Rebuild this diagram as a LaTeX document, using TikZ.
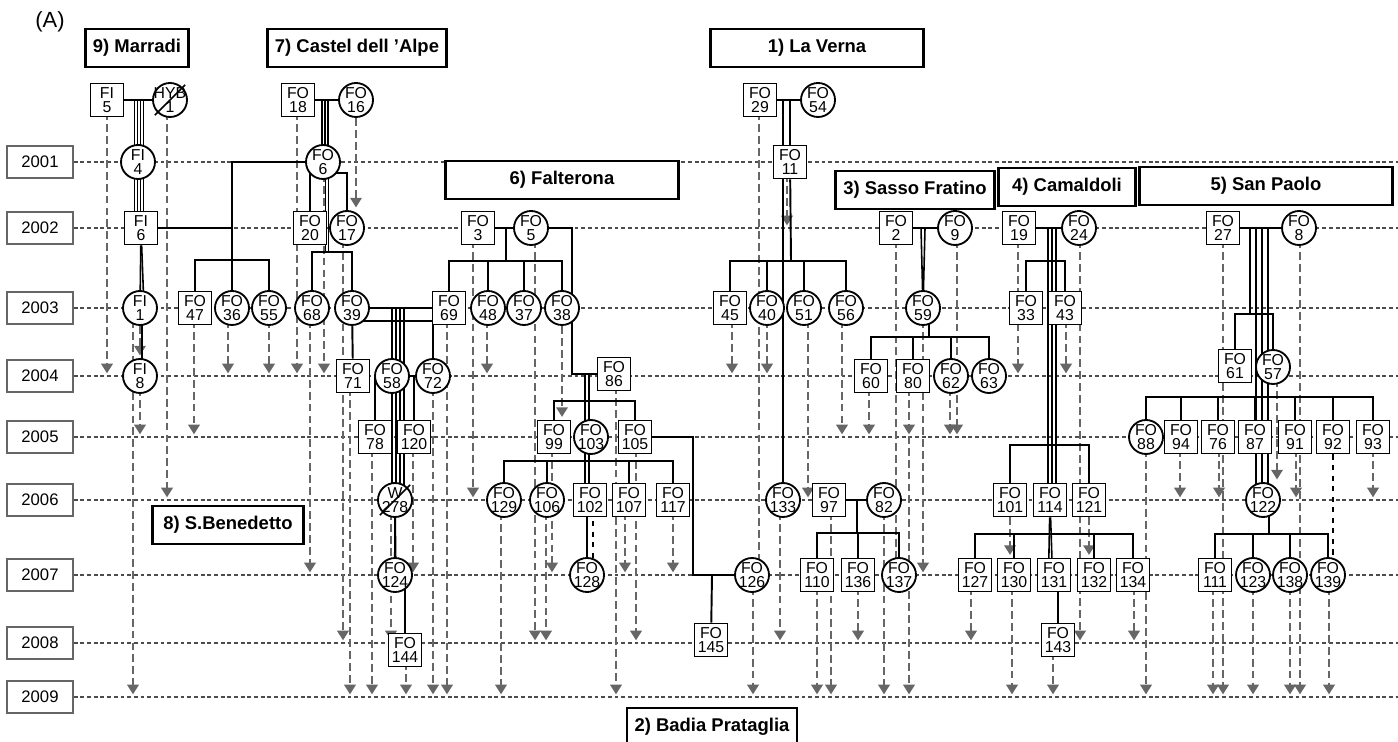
\documentclass[tikz,border=0pt]{standalone}
\usepackage{fontspec}
\setmainfont{Liberation Sans}
\usetikzlibrary{arrows.meta,backgrounds}
\tikzset{ybox/.style={
    rectangle,
    draw=black!60,
    line width=0.9pt,
    minimum width=1.32cm,
    minimum height=0.64cm,
    font=\fontsize{9.5}{11}\selectfont
  },
  tbox/.style={rectangle,draw,fill=white,line width=1.4pt,minimum height=0.76cm,
    font=\fontsize{10.5}{12}\selectfont\bfseries},
  ind/.style={draw,line width=1.05pt,fill=white,align=center,
    font=\fontsize{9}{7.6}\selectfont},
  mbox/.style={ind,rectangle,inner sep=0pt,minimum size=0.66cm},
  fcirc/.style={ind,circle,inner sep=-3pt,minimum size=0.68cm},
  yline/.style={black!70,line width=0.6pt,dash pattern=on 2.2pt off 1.6pt},
  seen/.style={black!60,line width=1.25pt,dash pattern=on 4.5pt off 2.3pt,
    -{Triangle[width=6.5pt,length=5.5pt]},shorten >=1.5pt},
  mate/.style={line width=1.6pt},
  sib/.style={line width=1.1pt},
  bund/.style={line width=0.9pt},
}
\begin{document}
\begin{tikzpicture}[x=0.02cm,y=-0.02cm]
  \useasboundingbox (0,0) rectangle (1398,742);
  \node[font=\fontsize{12.5}{14}\selectfont] (lbl) at (50,22) {(A)};
  \coordinate (rim) at (1398,0);

  % years
  \foreach \yr/\yy in {2001/162,2002/228,2003/308,2004/376,2005/437,
      2006/500,2007/575,2008/643,2009/697}
    \node[ybox] (y\yr) at (40,\yy) {\yr};

  % sites
  \node[tbox,minimum width=2.06cm] (marradi) at (137,48) {9) Marradi};
  \node[tbox,minimum width=3.58cm] (castel) at (357,48) {7) Castel dell 'Alpe};
  \node[tbox,minimum width=4.26cm] (verna) at (817,48) {1) La Verna};
  \node[tbox,minimum width=4.66cm] (falt) at (562,180) {6) Falterona};
  \node[tbox,minimum width=3.18cm] (sasso) at (915,190) {3) Sasso Fratino};
  \node[tbox,minimum width=2.74cm] (camal) at (1067,187) {4) Camaldoli};
  \node[tbox,minimum width=5.06cm] (paolo) at (1266,186) {5) San Paolo};
  \node[tbox,minimum width=3.02cm] (bened) at (228,525) {8) S.Benedetto};
  \node[tbox,minimum width=3.4cm] (badia) at (712,727) {2) Badia Prataglia};

  % Marradi
  \node[mbox] (fi5) at (107,100) {FI\\5};
  \node[fcirc] (hyb1) at (170,100) {HYB\\1};
  \node[fcirc] (fi4) at (138,162) {FI\\4};
  \node[mbox] (fi6) at (141,228) {FI\\6};
  \node[fcirc] (fi1) at (140,308) {FI\\1};
  \node[fcirc] (fi8) at (140,376) {FI\\8};
  \node[mbox] (fo47) at (195,308) {FO\\47};
  \node[fcirc] (fo36) at (232,308) {FO\\36};
  \node[fcirc] (fo55) at (269,308) {FO\\55};

  % Castel dell'Alpe
  \node[mbox] (fo18) at (298,100) {FO\\18};
  \node[fcirc] (fo16) at (356,100) {FO\\16};
  \node[fcirc] (fo6) at (323,162) {FO\\6};
  \node[mbox] (fo20) at (310,228) {FO\\20};
  \node[fcirc] (fo17) at (347,228) {FO\\17};
  \node[fcirc] (fo68) at (312,308) {FO\\68};
  \node[fcirc] (fo39) at (352,308) {FO\\39};
  \node[mbox] (fo71) at (353,376) {FO\\71};
  \node[fcirc] (fo58) at (392,376) {FO\\58};
  \node[fcirc] (fo72) at (433,376) {FO\\72};
  \node[mbox] (fo78) at (375,437) {FO\\78};
  \node[mbox] (fo120) at (414,437) {FO\\120};
  \node[fcirc] (w278) at (395,500) {W\\278};
  \node[fcirc] (fo124) at (395,575) {FO\\124};
  \node[mbox] (fo144) at (405,650) {FO\\144};

  % Falterona
  \node[mbox] (fo3) at (478,228) {FO\\3};
  \node[fcirc] (fo5) at (531,228) {FO\\5};
  \node[mbox] (fo69) at (449,308) {FO\\69};
  \node[fcirc] (fo48) at (488,308) {FO\\48};
  \node[fcirc] (fo37) at (524,308) {FO\\37};
  \node[fcirc] (fo38) at (562,308) {FO\\38};
  \node[mbox] (fo86) at (614,374) {FO\\86};
  \node[mbox] (fo99) at (554,437) {FO\\99};
  \node[fcirc] (fo103) at (591,437) {FO\\103};
  \node[mbox] (fo105) at (635,437) {FO\\105};
  \node[fcirc] (fo129) at (504,500) {FO\\129};
  \node[fcirc] (fo106) at (547,500) {FO\\106};
  \node[mbox] (fo102) at (590,500) {FO\\102};
  \node[mbox] (fo107) at (629,500) {FO\\107};
  \node[mbox] (fo117) at (673,500) {FO\\117};
  \node[fcirc] (fo128) at (587,575) {FO\\128};
  \node[fcirc] (fo126) at (752,575) {FO\\126};
  \node[mbox] (fo145) at (711,640) {FO\\145};

  % La Verna
  \node[mbox] (fo29) at (760,100) {FO\\29};
  \node[fcirc] (fo54) at (818,100) {FO\\54};
  \node[mbox] (fo11) at (790,162) {FO\\11};
  \node[mbox] (fo45) at (730,308) {FO\\45};
  \node[fcirc] (fo40) at (767,308) {FO\\40};
  \node[fcirc] (fo51) at (804,308) {FO\\51};
  \node[fcirc] (fo56) at (846,308) {FO\\56};
  \node[fcirc] (fo133) at (783,500) {FO\\133};

  % Sasso Fratino
  \node[mbox] (fo2) at (896,228) {FO\\2};
  \node[fcirc] (fo9) at (955,228) {FO\\9};
  \node[fcirc] (fo59) at (923,308) {FO\\59};
  \node[mbox] (fo60) at (871,376) {FO\\60};
  \node[mbox] (fo80) at (913,376) {FO\\80};
  \node[fcirc] (fo62) at (951,376) {FO\\62};
  \node[fcirc] (fo63) at (989,376) {FO\\63};
  \node[mbox] (fo97) at (829,500) {FO\\97};
  \node[fcirc] (fo82) at (884,500) {FO\\82};
  \node[mbox] (fo110) at (817,575) {FO\\110};
  \node[mbox] (fo136) at (858,575) {FO\\136};
  \node[fcirc] (fo137) at (899,575) {FO\\137};

  % Camaldoli
  \node[mbox] (fo19) at (1019,228) {FO\\19};
  \node[fcirc] (fo24) at (1079,228) {FO\\24};
  \node[mbox] (fo33) at (1026,308) {FO\\33};
  \node[mbox] (fo43) at (1065,308) {FO\\43};
  \node[mbox] (fo101) at (1010,500) {FO\\101};
  \node[mbox] (fo114) at (1050,500) {FO\\114};
  \node[mbox] (fo121) at (1089,500) {FO\\121};
  \node[mbox] (fo127) at (975,575) {FO\\127};
  \node[mbox] (fo130) at (1014,575) {FO\\130};
  \node[mbox] (fo131) at (1054,575) {FO\\131};
  \node[mbox] (fo132) at (1094,575) {FO\\132};
  \node[mbox] (fo134) at (1133,575) {FO\\134};
  \node[mbox] (fo143) at (1058,640) {FO\\143};

  % San Paolo
  \node[mbox] (fo27) at (1223,228) {FO\\27};
  \node[fcirc] (fo8) at (1299,228) {FO\\8};
  \node[mbox] (fo61) at (1235,366) {FO\\61};
  \node[fcirc] (fo57) at (1273,367) {FO\\57};
  \node[fcirc] (fo88) at (1146,437) {FO\\88};
  \node[mbox] (fo94) at (1181,437) {FO\\94};
  \node[mbox] (fo76) at (1218,437) {FO\\76};
  \node[mbox] (fo87) at (1255,437) {FO\\87};
  \node[mbox] (fo91) at (1295,437) {FO\\91};
  \node[mbox] (fo92) at (1333,437) {FO\\92};
  \node[mbox] (fo93) at (1373,437) {FO\\93};
  \node[fcirc] (fo122) at (1263,500) {FO\\122};
  \node[mbox] (fo111) at (1215,575) {FO\\111};
  \node[fcirc] (fo123) at (1253,575) {FO\\123};
  \node[fcirc] (fo138) at (1290,575) {FO\\138};
  \node[fcirc] (fo139) at (1328,575) {FO\\139};

  % crossed out
  \draw[line width=0.9pt,shorten <=-2pt,shorten >=-2pt] (hyb1.south west) -- (hyb1.north east);
  \draw[line width=0.9pt,shorten <=-2pt,shorten >=-2pt] (w278.south west) -- (w278.north east);

  \begin{pgfonlayer}{background}
    \foreach \yr in {2001,...,2009}
      \draw[yline] (y\yr) -- (y\yr -| rim);

    % last year seen
    \foreach \n/\x/\yr in {fi5/107/2004,hyb1/167/2006,fi1/133/2009,fi8/140/2005,
        fo47/194/2005,fo36/228/2004,fo55/269/2004,fo18/297/2004,fo6/324/2004,
        fo68/310/2007,fo17/343/2008,fo71/350/2009,fo78/372/2009,fo120/413/2007,
        fo144/406/2009,fo72/433/2009,fo69/447/2009,w278/391/2008,
        fo3/473/2006,fo48/487/2004,fo5/535/2008,fo99/552/2007,fo106/546/2008,
        fo86/616/2009,fo105/636/2008,fo107/625/2007,fo117/673/2007,
        fo129/501/2009,fo126/753/2009,
        fo29/759/2007,fo11/787/2002,fo45/732/2004,fo40/767/2004,fo51/808/2006,
        fo56/842/2005,fo133/780/2008,
        fo2/896/2007,fo59/923/2007,fo60/869/2005,fo80/909/2005,fo80/909/2009,
        fo62/950/2005,fo9/957/2005,fo110/817/2009,fo97/831/2009,
        fo136/858/2008,fo82/884/2009,
        fo19/1018/2004,fo43/1066/2004,fo24/1080/2008,fo130/1012/2009,
        fo127/971/2008,fo134/1134/2008,fo143/1053/2009,
        fo27/1223/2009,fo8/1300/2009,fo88/1146/2009,fo94/1180/2006,
        fo76/1219/2006,fo91/1296/2006,fo93/1373/2006,fo111/1213/2009,
        fo123/1253/2009,fo138/1290/2009,fo139/1329/2009}
      \draw[seen] (\x,0 |- \n) -- (\x,0 |- y\yr);
    \draw[seen] (fi1) -- (fi8);
    \draw[seen] (fo16) -- (fo16 |- fo17.north);
    \draw[seen] (fo38) -- (fo38 |- fo99.north);
    \draw[seen] (fo121) -- (fo121 |- fo132.north);
    \draw[seen] (fo101) -- (fo101 |- fo130.north);
    \draw[seen] (1277,0 |- fo57) -- (1277,0 |- fo122.north);
    \draw[dashed,line width=0.8pt] (593,0 |- fo102) -- (593,0 |- fo128);
    \draw[dashed,line width=1.5pt] (fo92) -- (fo92 |- fo139.north);

    % Marradi
    \draw[mate] (fi5) -- (hyb1);
    \coordinate (m9) at (139,100);
    \foreach \d in {-0.09,-0.03,0.03,0.09}
      \draw[bund] ([xshift=\d cm]m9) -- ([xshift=\d cm]m9 |- fi6);
    \foreach \d in {-0.02,0.06}
      \draw[bund] ([xshift=\d cm]fi6) -- ([xshift=\d cm]fi6 |- fi1);
    \draw[sib] ([xshift=0.04cm]fi1.center) -- ([xshift=0.04cm]fi8.center);
    \coordinate (k6) at (232,228);
    \coordinate (j6) at (232,260);
    \draw[mate] (fi6) -- (k6) |- (fo6);
    \draw[sib] (k6) -- (j6);
    \draw[sib] (j6) -| (fo47);
    \draw[sib] (j6) -| (fo55);
    \draw[sib] (j6) -- (fo36);

    % Castel dell'Alpe
    \draw[mate] (fo18) -- (fo16);
    \coordinate (m7) at (325,100);
    \foreach \d in {-0.06,0,0.06}
      \draw[bund] ([xshift=\d cm]m7) -- ([xshift=\d cm]m7 |- fo6);
    \coordinate (j7) at (327,252);
    \foreach \d in {-0.03,0.03}
      \draw[bund] ([xshift=\d cm]j7 |- fo6) -- ([xshift=\d cm]j7);
    \draw[sib] (j7) -| (fo68);
    \draw[sib] (j7) -| (fo39);
    \draw[sib] (fo20.north |- fo6) -- (fo20);
    \draw[sib] ([yshift=-0.22cm]fo6.center) -| (fo17);
    \draw[mate] (fo39) -- (fo69);
    \draw[sib] (fo39) -- (fo71);
    \draw[sib] ([yshift=-0.26cm]fo39.center) -| (fo72);
    \coordinate (m39) at (398,308);
    \foreach \d in {-0.12,-0.04,0.04,0.12}
      \draw[bund] ([xshift=\d cm]m39) -- ([xshift=\d cm]m39 |- w278);
    \draw[sib] (fo58) -| (fo78);
    \draw[sib] (fo58) -| (fo120);
    \foreach \d in {-0.02,0.06}
      \draw[bund] ([xshift=\d cm]w278) -- ([xshift=\d cm]fo124);
    \draw[sib] (fo144.north |- fo124) -- (fo144);

    % Falterona
    \draw[mate] (fo3) -- (fo5);
    \coordinate (m6) at (506,228);
    \coordinate (j6b) at (506,261);
    \draw[sib] (m6) -- (j6b);
    \foreach \c in {fo69,fo48,fo37,fo38}
      \draw[sib] (j6b) -| (\c);
    \coordinate (k5) at (572,228);
    \draw[mate] (fo5) -- (k5) |- (fo86);
    \coordinate (m86) at (587,374);
    \coordinate (j86) at (587,401);
    \coordinate (j103) at (587,461);
    \foreach \d in {-0.04,0.04}
      \draw[bund] ([xshift=\d cm]m86) -- ([xshift=\d cm]m86 |- fo102);
    \draw[sib] (j86) -| (fo99);
    \draw[sib] (j86) -| (fo105);
    \foreach \c in {fo129,fo106,fo107,fo117}
      \draw[sib] (j103) -| (\c);
    \coordinate (k105) at (693,437);
    \draw[mate] (fo105) -- (k105) |- (fo126);
    \coordinate (m126) at (712,575);
    \draw[sib] (m126) -- (fo145);
    \draw[sib] (fo128) -- (fo128 |- fo102);

    % La Verna
    \draw[mate] (fo29) -- (fo54);
    \draw[sib] (fo133 |- fo29) -- (fo133);
    \draw[sib] (fo11 |- fo29) -- (fo11);
    \coordinate (j11) at (791,261);
    \draw[sib] (fo11) -- (j11);
    \foreach \c in {fo45,fo40,fo51,fo56}
      \draw[sib] (j11) -| (\c);

    % Sasso Fratino
    \draw[mate] (fo2) -- (fo9);
    \foreach \d in {-0.04,0.04}
      \draw[bund] ([xshift=\d cm]fo59 |- fo2) -- ([xshift=\d cm]fo59);
    \coordinate (j59) at (929,337);
    \draw[sib] (j59 |- fo59) -- (j59);
    \foreach \c in {fo60,fo80,fo62,fo63}
      \draw[sib] (j59) -| (\c);
    \draw[mate] (fo97) -- (fo82);
    \coordinate (m97) at (857,500);
    \coordinate (j97) at (857,533);
    \draw[sib] (m97) -- (j97);
    \foreach \c in {fo110,fo136,fo137}
      \draw[sib] (j97) -| (\c);

    % Camaldoli
    \draw[mate] (fo19) -- (fo24);
    \coordinate (m19) at (1052,228);
    \foreach \d in {-0.08,0,0.08}
      \draw[bund] ([xshift=\d cm]m19) -- ([xshift=\d cm]m19 |- fo114);
    \coordinate (j19) at (1052,261);
    \draw[sib] (j19) -| (fo33);
    \draw[sib] (j19) -| (fo43);
    \coordinate (j101) at (1052,445);
    \draw[sib] (j101) -| (fo101);
    \draw[sib] (j101) -| (fo121);
    \coordinate (j114) at (1052,534);
    \foreach \d in {-0.03,0.05}
      \draw[bund] ([xshift=\d cm]fo114) -- ([xshift=\d cm]fo114 |- fo131);
    \foreach \c in {fo127,fo130,fo132,fo134}
      \draw[sib] (j114) -| (\c);
    \draw[sib] (fo143.north |- fo131) -- (fo143);

    % San Paolo
    \draw[mate] (fo27) -- (fo8);
    \coordinate (m27) at (1259,228);
    \coordinate (j27) at (1250,314);
    \foreach \d in {-0.18,-0.06,0.06,0.18}
      \draw[bund] ([xshift=\d cm]m27) -- ([xshift=\d cm]m27 |- j27);
    \draw[sib] (j27) -| (fo61);
    \draw[sib] (j27) -| (fo57);
    \foreach \d in {-0.06,0.06,0.18}
      \draw[bund] ([xshift=\d cm]m27 |- j27) -- ([xshift=\d cm]m27 |- fo122);
    \coordinate (j57) at (1263,397);
    \foreach \c in {fo88,fo94,fo76,fo87,fo91,fo92,fo93}
      \draw[sib] (j57) -| (\c);
    \coordinate (j122) at (1269,534);
    \draw[sib] (j122 |- fo122) -- (j122);
    \foreach \c in {fo111,fo123,fo138,fo139}
      \draw[sib] (j122) -| (\c);
  \end{pgfonlayer}
\end{tikzpicture}
\end{document}
